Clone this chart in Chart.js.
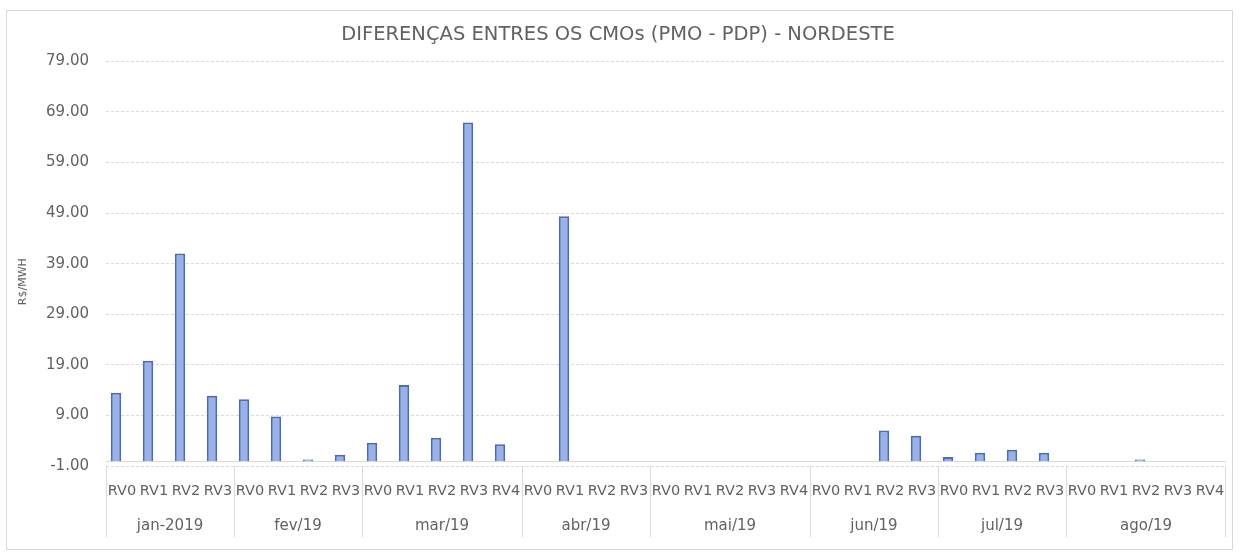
<!DOCTYPE html>
<html>
<head>
<meta charset="utf-8">
<script src="https://cdn.jsdelivr.net/npm/chart.js@4.4.1/dist/chart.umd.min.js"></script>
<style>
  html, body { margin: 0; padding: 0; background: #ffffff; }
  #wrap { position: relative; width: 1240px; height: 557px; }
</style>
</head>
<body>
<div id="wrap"><canvas id="chart" width="1240" height="557"></canvas></div>
<script>
// Months and how many weekly revisions (RV) each one has
const months = ['jan-2019', 'fev/19', 'mar/19', 'abr/19', 'mai/19', 'jun/19', 'jul/19', 'ago/19'];
const revisionsPerMonth = [4, 4, 5, 4, 5, 4, 4, 5];

// Category labels, one per revision
const revisionLabels = [
  'RV0', 'RV1', 'RV2', 'RV3',
  'RV0', 'RV1', 'RV2', 'RV3',
  'RV0', 'RV1', 'RV2', 'RV3', 'RV4',
  'RV0', 'RV1', 'RV2', 'RV3',
  'RV0', 'RV1', 'RV2', 'RV3', 'RV4',
  'RV0', 'RV1', 'RV2', 'RV3',
  'RV0', 'RV1', 'RV2', 'RV3',
  'RV0', 'RV1', 'RV2', 'RV3', 'RV4'
];

// CMO difference (PMO - PDP), R$/MWh, Nordeste subsystem
const cmoDiff = [
  13.5, 19.8, 41.0, 12.9,
  12.2, 8.8, 0.3, 1.2,
  3.6, 15.0, 4.6, 66.9, 3.3,
  0, 48.4, 0, 0,
  0, 0, 0, 0, 0,
  0, 0, 6.0, 5.0,
  0.8, 1.6, 2.2, 1.6,
  0, 0, 0.3, 0, 0
];

// Value axis range and step
const yMin = -1;
const yMax = 79;
const yStep = 10;

const FONT = 'DejaVu Sans';
const TEXT = '#626262';
const GRID = '#d9d9d9';

// Outer frame of the chart
const framePlugin = {
  id: 'frame',
  beforeDraw(chart) {
    const ctx = chart.ctx;
    ctx.save();
    ctx.fillStyle = '#ffffff';
    ctx.fillRect(0, 0, chart.width, chart.height);
    ctx.strokeStyle = GRID;
    ctx.lineWidth = 1;
    ctx.strokeRect(6.5, 10.5, chart.width - 14, chart.height - 18);
    ctx.restore();
  }
};

// Horizontal category axis line at value 0
const zeroLinePlugin = {
  id: 'zeroLine',
  beforeDatasetsDraw(chart) {
    const { ctx, chartArea, scales } = chart;
    const y = Math.round(scales.y.getPixelForValue(0)) + 0.5;
    ctx.save();
    ctx.strokeStyle = GRID;
    ctx.lineWidth = 1;
    ctx.beginPath();
    ctx.moveTo(chartArea.left, y);
    ctx.lineTo(chartArea.right, y);
    ctx.stroke();
    ctx.restore();
  }
};

// Second level of the category axis: month names with separators
const monthGroupPlugin = {
  id: 'monthGroups',
  afterDraw(chart) {
    const { ctx, chartArea, scales } = chart;
    const xs = scales.x;
    const step = xs.width / revisionLabels.length;
    const top = chartArea.bottom;
    const bottom = top + 71;
    ctx.save();
    ctx.strokeStyle = GRID;
    ctx.lineWidth = 1;
    ctx.fillStyle = TEXT;
    ctx.font = '15px "' + FONT + '"';
    ctx.textAlign = 'center';
    ctx.textBaseline = 'middle';
    let idx = 0;
    let right = 0;
    months.forEach((m, g) => {
      const n = revisionsPerMonth[g];
      const left = xs.getPixelForValue(idx) - step / 2;
      right = xs.getPixelForValue(idx + n - 1) + step / 2;
      const lx = Math.round(left) + 0.5;
      ctx.beginPath();
      ctx.moveTo(lx, top);
      ctx.lineTo(lx, bottom);
      ctx.stroke();
      ctx.fillText(m, (left + right) / 2, top + 60);
      idx += n;
    });
    const rx = Math.round(right) - 0.5;
    ctx.beginPath();
    ctx.moveTo(rx, top);
    ctx.lineTo(rx, bottom);
    ctx.stroke();
    ctx.restore();
  }
};

// Rotated value-axis title
const yTitlePlugin = {
  id: 'yTitle',
  afterDraw(chart) {
    const { ctx, chartArea } = chart;
    ctx.save();
    ctx.translate(23, (chartArea.top + chartArea.bottom) / 2 + 18);
    ctx.rotate(-Math.PI / 2);
    ctx.fillStyle = TEXT;
    ctx.font = '11px "' + FONT + '"';
    ctx.textAlign = 'center';
    ctx.textBaseline = 'middle';
    ctx.fillText('R$/MWH', 0, 0);
    ctx.restore();
  }
};

new Chart(document.getElementById('chart'), {
  type: 'bar',
  data: {
    labels: revisionLabels,
    datasets: [
      {
        label: 'PMO - PDP',
        data: cmoDiff,
        backgroundColor: '#9ab1e6',
        borderColor: '#4a6cbd',
        borderWidth: 2,
        borderSkipped: 'start'
      },
      {
        // second (empty) series slot beside each bar
        label: '',
        data: [],
        backgroundColor: '#9ab1e6'
      }
    ]
  },
  options: {
    responsive: false,
    animation: false,
    datasets: {
      bar: { categoryPercentage: 0.75, barPercentage: 0.87 }
    },
    layout: { padding: { left: 10, right: 14, top: 0, bottom: 11 } },
    plugins: {
      legend: { display: false },
      tooltip: { enabled: false },
      title: {
        display: true,
        text: 'DIFERENÇAS ENTRES OS CMOs (PMO - PDP) - NORDESTE',
        color: TEXT,
        font: { family: FONT, size: 19.5, weight: 'normal' },
        padding: { top: 23, bottom: 15 }
      }
    },
    scales: {
      x: {
        type: 'category',
        grid: { display: false },
        border: { display: false },
        ticks: {
          color: TEXT,
          font: { family: FONT, size: 14.5 },
          padding: 9,
          maxRotation: 0,
          minRotation: 0,
          autoSkip: false
        },
        afterFit(scale) { scale.height = 80; }
      },
      y: {
        min: yMin,
        max: yMax,
        grid: { color: GRID, lineWidth: 1, drawTicks: false },
        border: { display: false, dash: [3, 2] },
        ticks: {
          stepSize: yStep,
          color: TEXT,
          font: { family: FONT, size: 15 },
          padding: 17,
          callback: (v) => Number(v).toFixed(2)
        },
        afterFit(scale) { scale.width = 96; }
      }
    }
  },
  plugins: [framePlugin, zeroLinePlugin, monthGroupPlugin, yTitlePlugin]
});
</script>
</body>
</html>
